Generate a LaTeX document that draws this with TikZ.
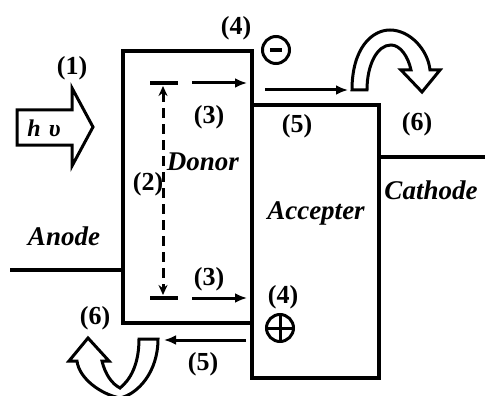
\documentclass[tikz,border=0pt]{standalone}
\usepackage{fontspec}
\setmainfont{Liberation Serif}
\usetikzlibrary{arrows.meta}

\begin{document}
\begin{tikzpicture}[x=1pt, y=-1pt]
\tikzset{
  lbl/.style={font=\fontsize{26}{28}\selectfont\bfseries, inner sep=0pt},
  word/.style={font=\fontsize{27}{30}\selectfont\bfseries\itshape, inner sep=0pt},
  wall/.style={line width=4pt},
  bar/.style={line width=4.5pt},
  flow/.style={line width=3pt, -{Latex[length=12pt, width=10pt]}},
  shell/.style={line width=3pt, fill=white, line join=miter},
  charge/.style={circle, draw, line width=3pt, minimum size=27pt, inner sep=0pt}
}
\useasboundingbox (0,0) rectangle (485,396);

% levels
\coordinate (LumoL) at (150,83);
\coordinate (LumoR) at (178,83);
\coordinate (HomoL) at (150,298);
\coordinate (HomoR) at (178,298);
\coordinate (LumoT) at (163,86);
\coordinate (HomoT) at (163,295);
\coordinate (eA) at (192,83);
\coordinate (eB) at (247,83);
\coordinate (hA) at (192,298);
\coordinate (hB) at (247,298);
\coordinate (eC) at (265,90);
\coordinate (eD) at (348,90);
\coordinate (hC) at (246,340);
\coordinate (hD) at (164,340);

% layers
\draw[wall] (123,51) rectangle (252,323);
\draw[wall] (252,105) rectangle (379,378);
\draw[wall] (10,270) -- (123,270);
\draw[wall] (379,157) -- (485,157);

% donor levels
\draw[bar] (LumoL) -- (LumoR);
\draw[bar] (HomoL) -- (HomoR);
\draw[line width=3pt, dash pattern=on 10pt off 6pt,
  {Stealth[length=10pt, width=9pt]}-{Stealth[length=10pt, width=9pt]}] (LumoT) -- (HomoT);

% charge flow
\draw[flow] (eA) -- (eB);
\draw[flow] (hA) -- (hB);
\draw[flow] (eC) -- (eD);
\draw[flow] (hC) -- (hD);

% light
\draw[shell] (17,110) -- (72,110) -- (72,88) -- (93,127) -- (72,166)
  -- (72,145) -- (17,145) -- cycle;
\node[font=\fontsize{24}{26}\selectfont\bfseries\itshape] (hv) at (44,128) {h\,\,υ};

% collection
\draw[shell] (352,90) .. controls (352,48) and (372,30) .. (390,30)
  .. controls (410,30) and (428,50) .. (430,70) -- (440,70) -- (422,92)
  -- (401,70) -- (411,70) .. controls (408,56) and (400,45) .. (391,45)
  .. controls (377,45) and (367,65) .. (367,90) -- cycle;
\begin{scope}
\clip (0,0) rectangle (485,396);
\draw[shell] (158,339) .. controls (158,372) and (138,394) .. (120,398)
  .. controls (100,394) and (79,378) .. (77,361) -- (69,361) -- (88,338)
  -- (109,361) -- (102,361) .. controls (105,374) and (112,384) .. (120,388)
  .. controls (130,380) and (139,365) .. (139,339) -- cycle;
\end{scope}

% charges
\node[charge] (minus) at (276,50) {};
\draw[line width=3.5pt] ([xshift=-6pt]minus.center) -- ([xshift=6pt]minus.center);
\node[charge] (plus) at (280,328) {};
\draw[line width=3pt] (plus.north) -- (plus.south);
\draw[line width=3pt] (plus.west) -- (plus.east);

% labels
\node[lbl] (n1) at (72,68) {(1)};
\node[lbl] (n2) at (148,184) {(2)};
\node[lbl] (n3a) at (209,117) {(3)};
\node[lbl] (n3b) at (209,279) {(3)};
\node[lbl] (n4a) at (236,28) {(4)};
\node[lbl] (n4b) at (283,297) {(4)};
\node[lbl] (n5a) at (297,126) {(5)};
\node[lbl] (n5b) at (203,364) {(5)};
\node[lbl] (n6a) at (417,124) {(6)};
\node[lbl] (n6b) at (95,318) {(6)};
\node[word] (donor) at (203,162) {Donor};
\node[word] (acc) at (316,213) {Accepter};
\node[word] (cath) at (431,190) {Cathode};
\node[word] (anode) at (64,236) {Anode};
\end{tikzpicture}
\end{document}
